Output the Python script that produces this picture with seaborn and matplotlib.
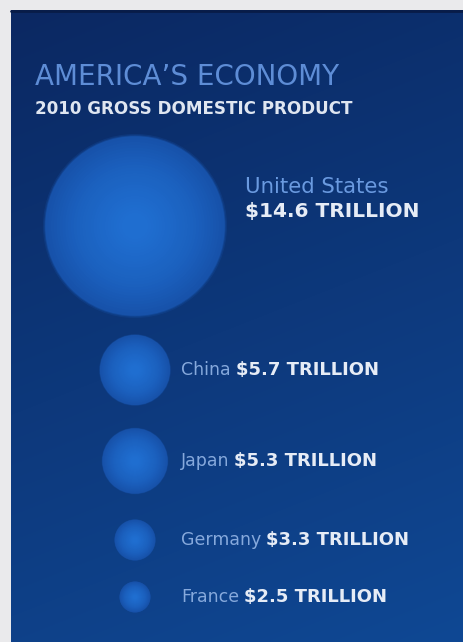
import numpy as np
import pandas as pd
import matplotlib
matplotlib.use("Agg")
import matplotlib.pyplot as plt
import seaborn as sns

# 2010 GDP, trillions of US dollars
countries = ["United States", "China", "Japan", "Germany", "France"]
gdp = [14.6, 5.7, 5.3, 3.3, 2.5]
value_labels = ["$14.6 TRILLION", "$5.7 TRILLION", "$5.3 TRILLION",
                "$3.3 TRILLION", "$2.5 TRILLION"]

title = "AMERICA\u2019S ECONOMY"
subtitle = "2010 GROSS DOMESTIC PRODUCT"

# layout (pixel space of the canvas)
W, H, DPI = 464, 642, 100
row_y = [226, 370, 461, 540, 597]
bubble_x = 135
px_per_trillion = 6.15          # bubble radius grows with the value

sns.set_theme(style="white")
plt.rcParams["font.family"] = ["DejaVu Sans"]

fig = plt.figure(figsize=(W / DPI, H / DPI), dpi=DPI, facecolor="#eaeaec")
ax = fig.add_axes([0, 0, 1, 1])
ax.set_xlim(0, W)
ax.set_ylim(H, 0)
ax.axis("off")

# navy panel with a soft diagonal gradient
px0, py0 = 11, 10
ny, nx = 200, 150
yy, xx = np.mgrid[0:1:ny * 1j, 0:1:nx * 1j]
t = np.clip(0.78 * yy + 0.22 * xx, 0, 1)
top = np.array([11, 40, 98]) / 255
bot = np.array([15, 72, 148]) / 255
grad = top[None, None, :] * (1 - t[..., None]) + bot[None, None, :] * t[..., None]
ax.imshow(grad, extent=(px0, W, H, py0), aspect="auto", zorder=0,
          interpolation="bilinear")
ax.plot([px0, W], [py0 + 1, py0 + 1], color="#081c48", lw=2, zorder=1)

df = pd.DataFrame({"country": countries, "gdp": gdp, "y": row_y})
df["x"] = bubble_x
radius_pt = df["gdp"] * px_per_trillion * 72 / DPI

# bubbles: faint soft rim, then stacked discs getting lighter toward the centre
edge_c = np.array([23, 82, 170]) / 255
mid_c = np.array([27, 97, 191]) / 255
center_c = np.array([31, 110, 208]) / 255
for scale, alpha in [(1.025, 0.25), (1.01, 0.5)]:
    sns.scatterplot(data=df, x="x", y="y", s=(2 * radius_pt * scale) ** 2,
                    color=edge_c, alpha=alpha, linewidth=0, ax=ax,
                    legend=False, zorder=2)
n_layers = 28
for i in range(n_layers):
    f = i / (n_layers - 1)
    scale = 1.0 - 0.85 * f
    if f <= 0.4:
        c = edge_c * (1 - f / 0.4) + mid_c * (f / 0.4)
    else:
        g = (f - 0.4) / 0.6
        c = mid_c * (1 - g) + center_c * g
    sns.scatterplot(data=df, x="x", y="y", s=(2 * radius_pt * scale) ** 2,
                    color=c, linewidth=0, ax=ax, legend=False, zorder=3)

# headings
ax.text(35, 77, title, color="#5e8dd6", fontsize=20, va="center",
        ha="left", zorder=5)
ax.text(35, 109, subtitle, color="#dfe6f1", fontsize=12.1,
        fontweight="bold", va="center", ha="left", zorder=5)

name_c = "#86a9dc"
value_c = "#e6ecf6"

# largest economy gets a two-line label
ax.text(245, 187, countries[0], color="#6a9ae0", fontsize=15.3,
        va="center", ha="left", zorder=5)
ax.text(245, 211, value_labels[0], color=value_c, fontsize=14.5,
        fontweight="bold", va="center", ha="left", zorder=5)

# others: country name followed by the bold value
fig.canvas.draw()
renderer = fig.canvas.get_renderer()
inv = ax.transData.inverted()
for name, val, y in zip(countries[1:], value_labels[1:], row_y[1:]):
    tn = ax.text(181, y, name, color=name_c, fontsize=12.5,
                 va="center", ha="left", zorder=5)
    bb = tn.get_window_extent(renderer)
    x_end = inv.transform((bb.x1, bb.y0))[0]
    ax.text(x_end + 5, y, val, color=value_c, fontsize=13,
            fontweight="bold", va="center", ha="left", zorder=5)

fig.savefig("out.png", dpi=DPI, facecolor=fig.get_facecolor())
